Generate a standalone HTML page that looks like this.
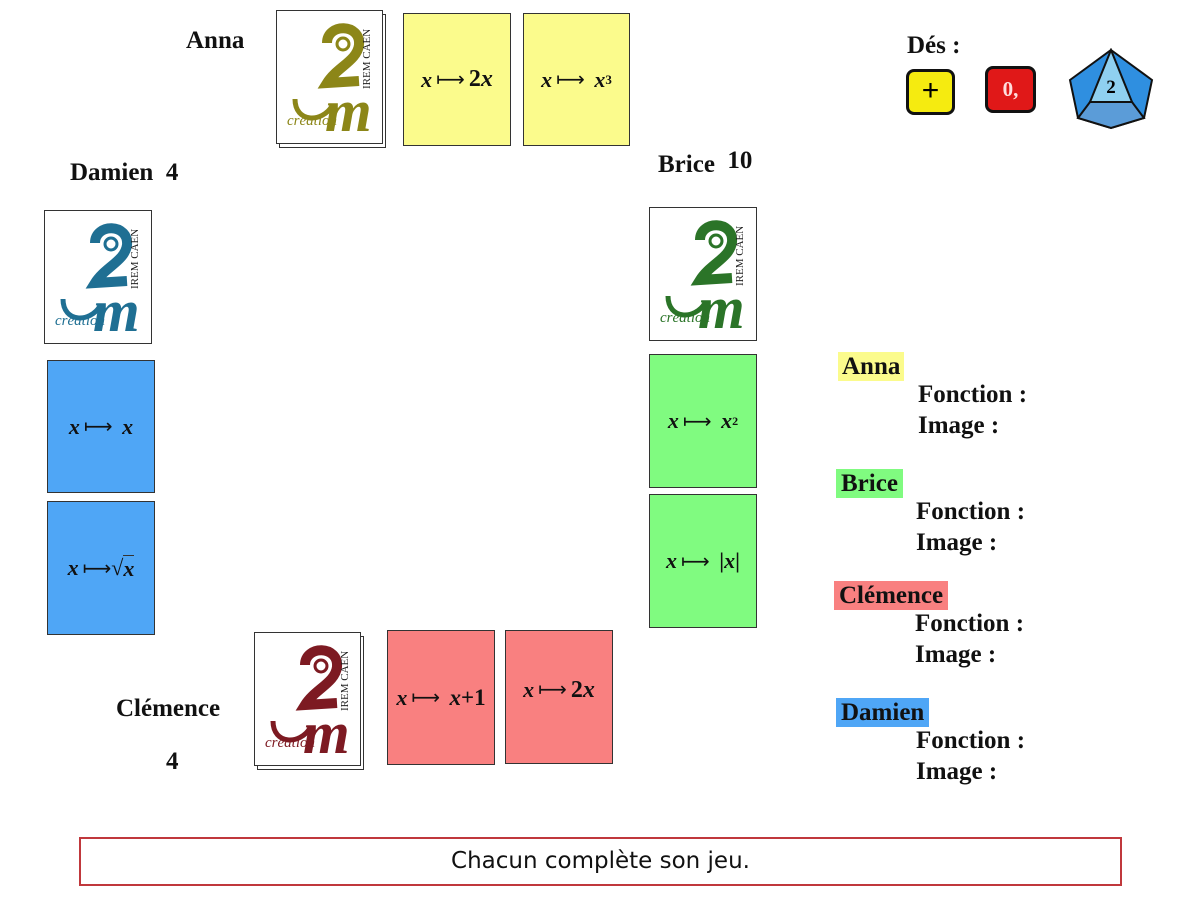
<!DOCTYPE html>
<html><head><meta charset="utf-8"><style>
body{margin:0;width:1200px;height:900px;background:#fff;position:relative;overflow:hidden;font-family:"Liberation Serif",serif}
.a{position:absolute}
.card{position:absolute;border:1.5px solid #333;box-sizing:border-box;display:flex;align-items:center;justify-content:center;font-family:"Liberation Serif",serif;font-weight:bold;font-size:22px;color:#111}
.card i{font-style:italic}
.lbl{position:absolute;font-weight:bold;font-size:25px;color:#111}
.fl{position:absolute;font-weight:bold;font-size:25px;color:#111;line-height:31px}
.deck{position:absolute;background:#fff;border:1.5px solid #333;box-sizing:border-box}
.y{background:#fbfb8c}.b{background:#4fa6f6}.g{background:#80fb80}.r{background:#f98080}
.arr{font-weight:normal;font-size:20px;margin:0 4px}
</style></head><body>

<svg width="0" height="0" style="position:absolute">
<defs>
<g id="logo">
<path d="M50 32 C50 12 84 12 82 34 C80 50 60 56 50 72 L82 70" fill="none" stroke="currentColor" stroke-width="10"/>
<circle cx="66" cy="33" r="6" fill="#fff" stroke="currentColor" stroke-width="3"/>
<path d="M18 88 C18 112 45 112 55 95" fill="none" stroke="currentColor" stroke-width="5"/>
<text x="48" y="120" font-family="Liberation Serif" font-size="60" font-style="italic" font-weight="bold" fill="currentColor">m</text>
<text x="10" y="114" font-family="Liberation Serif" font-size="15" font-style="italic" fill="currentColor">création</text>
<text x="0" y="0" transform="translate(93,78) rotate(-90)" font-family="Liberation Serif" font-size="11" fill="#222">IREM CAEN</text>
</g>
</defs>
</svg>

<!-- Anna -->
<div class="lbl" style="left:186px;top:27px">Anna</div>
<div class="deck" style="left:279px;top:14px;width:107px;height:134px"></div>
<div class="deck" style="left:276px;top:10px;width:107px;height:134px"><svg width="104" height="130" style="color:#8c8618"><use href="#logo"/></svg></div>
<div class="card y" style="left:403px;top:13px;width:108px;height:133px"><i>x</i><span class="arr">⟼</span><span style="font-size:24px">2<i>x</i></span></div>
<div class="card y" style="left:523px;top:13px;width:107px;height:133px"><i>x</i><span class="arr">⟼</span>&nbsp;<i>x</i><sup style="font-size:13px">3</sup></div>

<!-- Dés -->
<div class="lbl" style="left:907px;top:32px">Dés :</div>
<div class="a" style="left:906px;top:69px;width:49px;height:46px;background:#f5eb10;border:3px solid #111;border-radius:8px;box-sizing:border-box;text-align:center;font-size:30px;line-height:38px;font-family:'Liberation Sans',sans-serif">+</div>
<div class="a" style="left:985px;top:66px;width:51px;height:47px;background:#e01818;border:3px solid #111;border-radius:8px;box-sizing:border-box;text-align:center;font-size:21px;line-height:40px;font-weight:bold;color:#fdd">0,</div>
<svg class="a" style="left:1066px;top:48px" width="90" height="82">
<polygon points="45,2 86,32 78,70 45,80 12,70 4,32" fill="#2f8fe0" stroke="#111" stroke-width="2"/>
<polygon points="45,2 66,54 24,54" fill="#8fd0f0" stroke="#111" stroke-width="2"/>
<polygon points="24,54 66,54 78,70 45,80 12,70" fill="#5b9cd8" stroke="#111" stroke-width="2"/>
<text x="45" y="45" text-anchor="middle" font-family="Liberation Serif" font-weight="bold" font-size="19">2</text>
</svg>

<!-- Damien -->
<div class="lbl" style="left:70px;top:159px">Damien&nbsp; 4</div>
<div class="deck" style="left:44px;top:210px;width:108px;height:134px"><svg width="104" height="130" style="color:#1f6f93"><use href="#logo"/></svg></div>
<div class="card b" style="left:47px;top:360px;width:108px;height:133px"><i>x</i><span class="arr">⟼</span>&nbsp;<i>x</i></div>
<div class="card b" style="left:47px;top:501px;width:108px;height:134px"><i>x</i><span class="arr" style="margin-right:0">⟼</span>√<span style="border-top:1px solid #333"><i>x</i></span></div>

<!-- Brice -->
<div class="lbl" style="left:658px;top:151px">Brice&nbsp; <span style="position:relative;top:-4px">10</span></div>
<div class="deck" style="left:649px;top:207px;width:108px;height:134px"><svg width="104" height="130" style="color:#2b7428"><use href="#logo"/></svg></div>
<div class="card g" style="left:649px;top:354px;width:108px;height:134px"><i>x</i><span class="arr">⟼</span>&nbsp;<i>x</i><sup style="font-size:12px">2</sup></div>
<div class="card g" style="left:649px;top:494px;width:108px;height:134px"><i>x</i><span class="arr">⟼</span>&nbsp;|<i>x</i>|</div>

<!-- Clémence -->
<div class="lbl" style="left:116px;top:695px">Clémence</div>
<div class="lbl" style="left:166px;top:748px">4</div>
<div class="deck" style="left:257px;top:636px;width:107px;height:134px"></div>
<div class="deck" style="left:254px;top:632px;width:107px;height:134px"><svg width="104" height="130" style="color:#7d1a22"><use href="#logo"/></svg></div>
<div class="card r" style="left:387px;top:630px;width:108px;height:135px"><i>x</i><span class="arr">⟼</span>&nbsp;<span style="font-size:23px"><i>x</i>+1</span></div>
<div class="card r" style="left:505px;top:630px;width:108px;height:134px;align-items:flex-start;padding-top:46px"><i>x</i><span class="arr">⟼</span><span style="font-size:24px">2<i>x</i></span></div>

<!-- Legend -->
<div class="lbl" style="left:838px;top:352px;background:#fbfb8c;padding:0 4px;line-height:29px">Anna</div>
<div class="fl" style="left:918px;top:379px">Fonction :<br>Image :</div>
<div class="lbl" style="left:836px;top:469px;background:#80fb80;padding:0 5px;line-height:29px">Brice</div>
<div class="fl" style="left:916px;top:496px">Fonction :<br>Image :</div>
<div class="lbl" style="left:834px;top:581px;background:#f98080;padding:0 5px;line-height:29px">Clémence</div>
<div class="fl" style="left:915px;top:608px">Fonction :<br>Image :</div>
<div class="lbl" style="left:836px;top:698px;background:#4fa6f6;padding:0 5px;line-height:29px">Damien</div>
<div class="fl" style="left:916px;top:725px">Fonction :<br>Image :</div>

<!-- Bottom -->
<div class="a" style="left:79px;top:837px;width:1043px;height:49px;border:2px solid #c0383c;box-sizing:border-box;text-align:center;line-height:45px;font-family:'DejaVu Sans',sans-serif;font-size:23px;color:#111">Chacun complète son jeu.</div>
</body></html>
